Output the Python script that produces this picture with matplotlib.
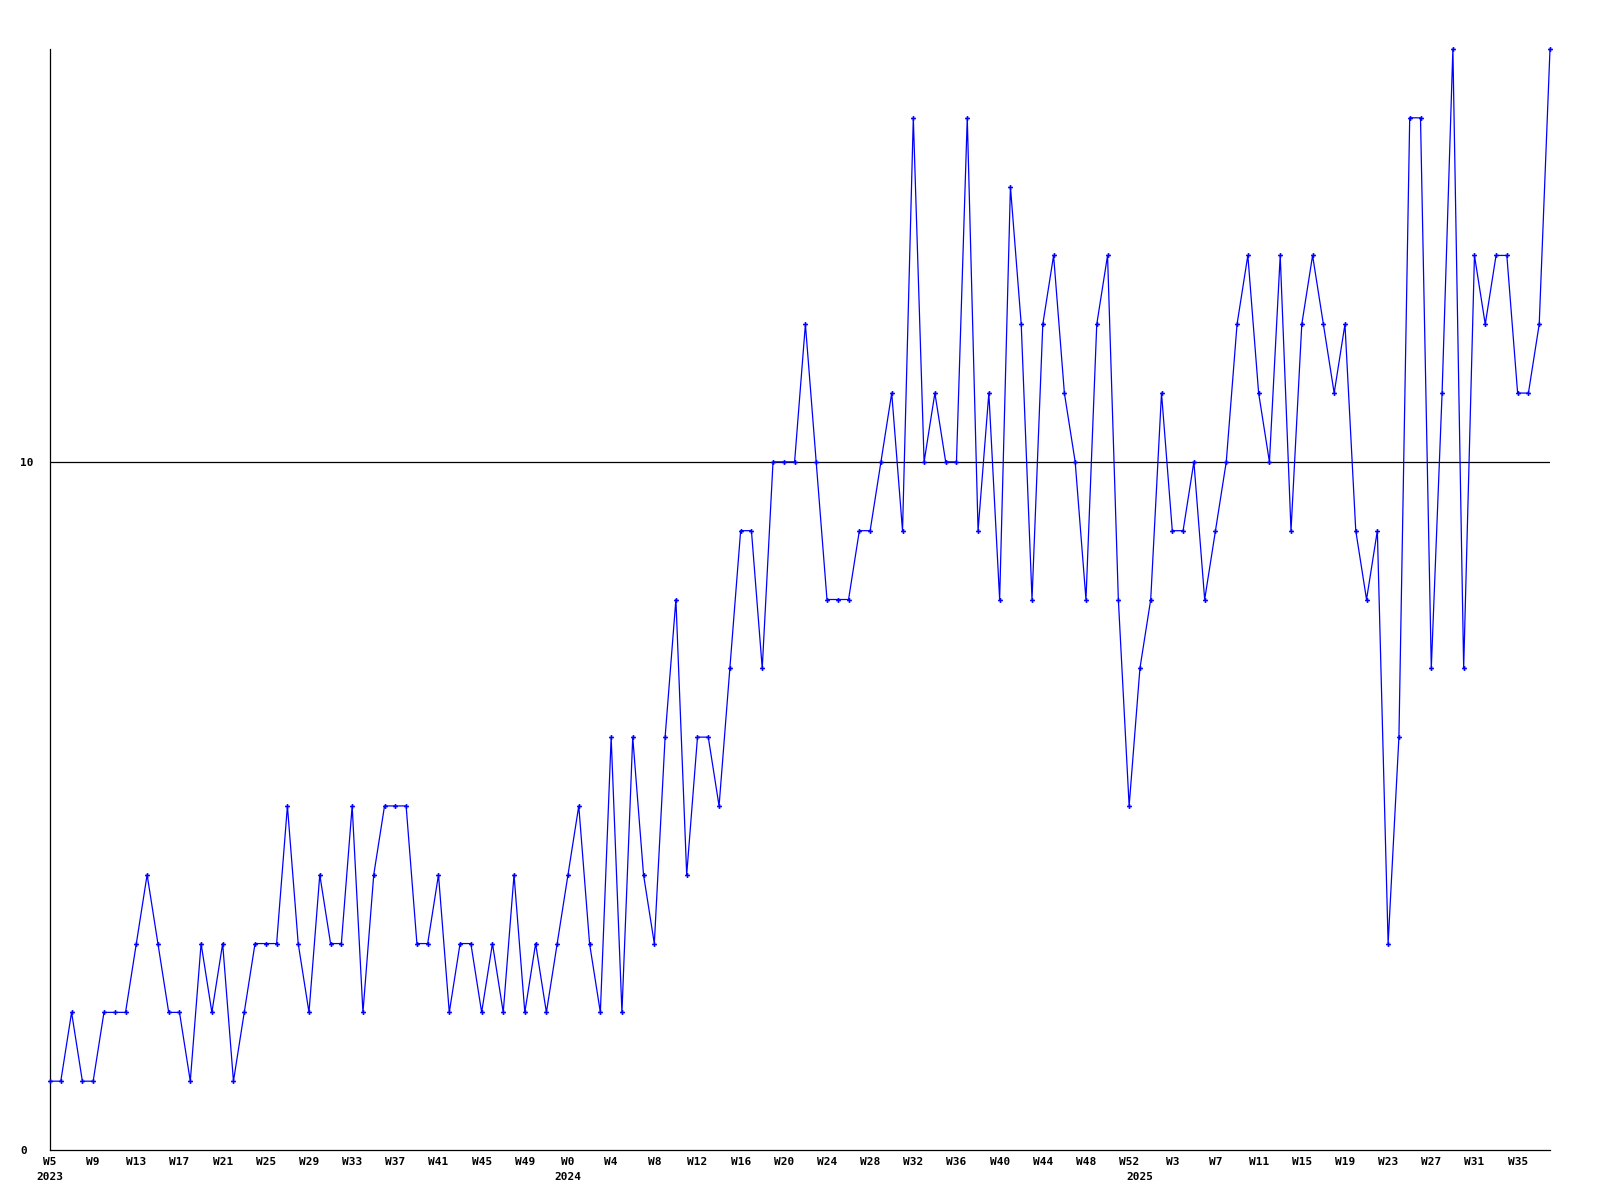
import matplotlib
matplotlib.use("Agg")
import matplotlib.pyplot as plt

# year segments of the weekly series (week numbers as shown on the axis)
years = [2023, 2024, 2025]
first_week = [5, 0, 0]
last_week = [52, 52, 38]

# weekly counts
counts = [
    1, 1, 2, 1, 1, 2, 2, 2, 3, 4,
    3, 2, 2, 1, 3, 2, 3, 1, 2, 3,
    3, 3, 5, 3, 2, 4, 3, 3, 5, 2,
    4, 5, 5, 5, 3, 3, 4, 2, 3, 3,
    2, 3, 2, 4, 2, 3, 2, 3, 4, 5,
    3, 2, 6, 2, 6, 4, 3, 6, 8, 4,
    6, 6, 5, 7, 9, 9, 7, 10, 10, 10,
    12, 10, 8, 8, 8, 9, 9, 10, 11, 9,
    15, 10, 11, 10, 10, 15, 9, 11, 8, 14,
    12, 8, 12, 13, 11, 10, 8, 12, 13, 8,
    5, 7, 8, 11, 9, 9, 10, 8, 9, 10,
    12, 13, 11, 10, 13, 9, 12, 13, 12, 11,
    12, 9, 8, 9, 3, 6, 15, 15, 7, 11,
    16, 7, 13, 12, 13, 13, 11, 11, 12, 16,
]

y_ticks = [0, 10]
label_every = 4

# build the week label and the year-start markers
week_labels = []
year_starts = []
for yr, w0, w1 in zip(years, first_week, last_week):
    year_starts.append(len(week_labels))
    for w in range(w0, w1 + 1):
        week_labels.append("W%d" % w)

x = list(range(len(counts)))

plt.rcParams['font.family'] = ['DejaVu Sans Mono']
plt.rcParams['font.size'] = 8
plt.rcParams['font.weight'] = 'bold'

fig = plt.figure(figsize=(16, 12), dpi=100)
ax = fig.add_axes([50 / 1600, 50 / 1200, 1500 / 1600, 1101 / 1200])

ax.axhline(10, color='black', lw=0.9, zorder=1)
ax.plot(x, counts, color='#0000ff', lw=0.9, marker='P', markersize=3.5,
        markeredgewidth=0, clip_on=False, zorder=3)

ax.set_xlim(0, len(counts) - 1)
ax.set_ylim(0, 16)

for s in ['top', 'right']:
    ax.spines[s].set_visible(False)
for s in ['left', 'bottom']:
    ax.spines[s].set_linewidth(0.9)
    ax.spines[s].set_color('black')

# week ticks (major) and year ticks (minor), allowed to share positions
ax.xaxis.remove_overlapping_locs = False
ax.set_xticks(x[::label_every])
ax.set_xticklabels(week_labels[::label_every])
ax.set_xticks(year_starts, minor=True)
ax.set_xticklabels([str(y) for y in years], minor=True)
ax.tick_params(axis='x', which='major', length=0, pad=5)
ax.tick_params(axis='x', which='minor', length=0, pad=16)

ax.set_yticks(y_ticks)
ax.set_yticklabels([str(v) for v in y_ticks])
ax.tick_params(axis='y', length=0, pad=21.6)
for lab in ax.get_yticklabels():
    lab.set_horizontalalignment('left')

fig.savefig('out.png', dpi=100)
